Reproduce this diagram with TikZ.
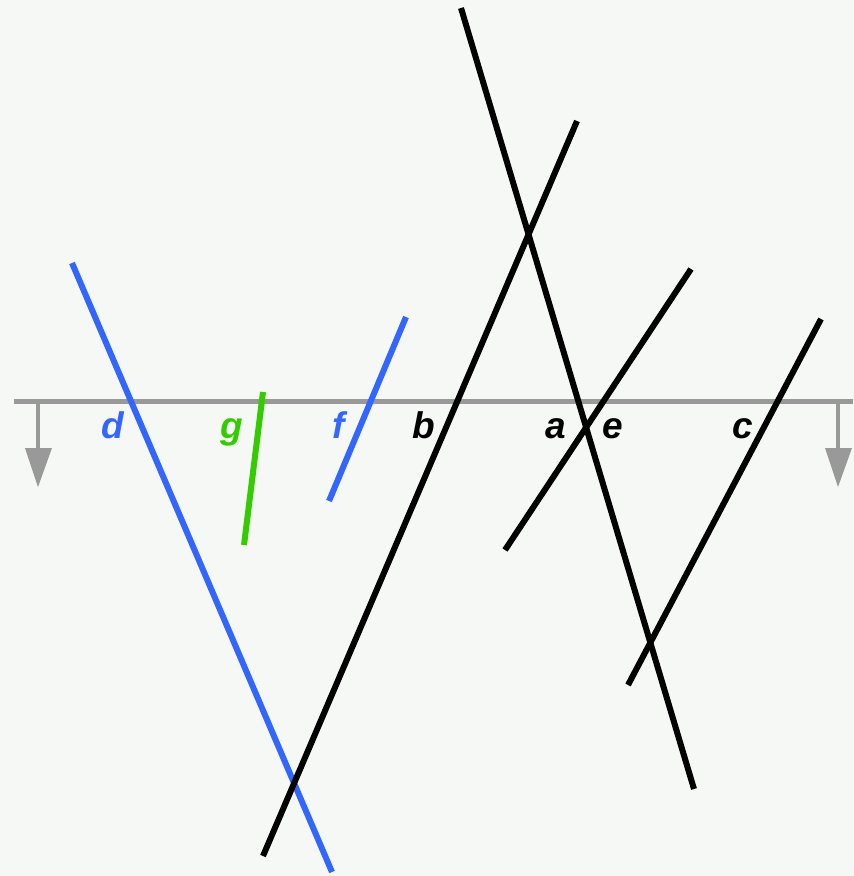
\documentclass[tikz,border=0pt]{standalone}
\usepackage{fontspec}
\setmainfont{Liberation Sans}
\definecolor{bgc}{HTML}{F6F8F5}
\definecolor{axisgray}{HTML}{999999}
\definecolor{lblue}{HTML}{3366FF}
\definecolor{lgreen}{HTML}{33CC00}
\tikzset{
  seg/.style={line width=6pt, line cap=butt},
  axisline/.style={draw=axisgray, line width=5pt},
  lbl/.style={anchor=base, inner sep=0pt, font=\fontsize{37}{37}\selectfont\bfseries\itshape}
}
\begin{document}
\begin{tikzpicture}[x=1pt,y=-1pt]
\fill[bgc] (0,0) rectangle (854,876);
\useasboundingbox (0,0) rectangle (854,876);
% axis
\coordinate (axL) at (14,401);
\coordinate (axR) at (853,401);
\draw[axisline] (axL) -- (axR);
\coordinate (la1) at (38,401);
\coordinate (la2) at (38,452);
\draw[axisgray, line width=4.5pt] (la1) -- (la2);
\fill[axisgray] (25,448) -- (52,448) -- (38,487) -- cycle;
\coordinate (ra1) at (838,401);
\coordinate (ra2) at (838,452);
\draw[axisgray, line width=4.5pt] (ra1) -- (ra2);
\fill[axisgray] (825,448) -- (852,448) -- (838,487) -- cycle;
% segments
\coordinate (d1) at (72,263);  \coordinate (d2) at (332,872);
\coordinate (g1) at (263,392); \coordinate (g2) at (244,545);
\coordinate (f1) at (406,317); \coordinate (f2) at (329,501);
\coordinate (b1) at (577,121); \coordinate (b2) at (263,856);
\coordinate (e1) at (461,8);   \coordinate (e2) at (694,789);
\coordinate (a1) at (691,269); \coordinate (a2) at (505,550);
\coordinate (c1) at (821,319); \coordinate (c2) at (628,685);
\draw[seg, lblue] (d1) -- (d2);
\draw[seg, lgreen] (g1) -- (g2);
\draw[seg, lblue] (f1) -- (f2);
\draw[seg, black] (b1) -- (b2);
\draw[seg, black] (e1) -- (e2);
\draw[seg, black] (a1) -- (a2);
\draw[seg, black] (c1) -- (c2);
% labels
\node[lbl, text=lblue] (ld) at (113,438) {d};
\node[lbl, text=lgreen] (lg) at (232,438) {g};
\node[lbl, text=lblue] (lf) at (339,438) {f};
\node[lbl] (lb) at (424,438) {b};
\node[lbl] (la) at (556,438) {a};
\node[lbl] (le) at (613,438) {e};
\node[lbl] (lc) at (743,438) {c};
\end{tikzpicture}
\end{document}
